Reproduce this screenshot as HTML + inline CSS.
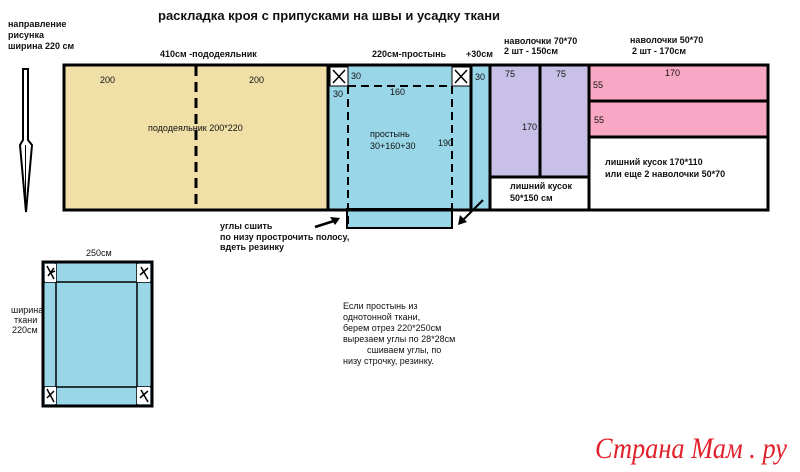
<!DOCTYPE html>
<html><head><meta charset="utf-8"><style>
body{margin:0;background:#fff}
svg{display:block}
text{font-family:"Liberation Sans",sans-serif;font-size:9px;fill:#111}
.b{font-weight:bold}
</style></head><body>
<svg width="800" height="472" viewBox="0 0 800 472" xmlns="http://www.w3.org/2000/svg">
<text x="158" y="20" class="b" style="font-size:13px">раскладка кроя с припусками на швы и усадку ткани</text>
<text x="8" y="27" class="b">направление</text>
<text x="8" y="38" class="b">рисунка</text>
<text x="8" y="49" class="b">ширина 220 см</text>
<path d="M23,69 H28 V140 L32,145 L26,212 L20,145 L23,140 Z" fill="#fff" stroke="#000" stroke-width="2"/>
<line x1="25.5" y1="145" x2="25.5" y2="205" stroke="#000" stroke-width="1"/>
<text x="160" y="57" class="b">410см -пододеяльник</text>
<text x="372" y="57" class="b">220см-простынь</text>
<text x="466" y="57" class="b">+30см</text>
<text x="504" y="44" class="b">наволочки 70*70</text>
<text x="504" y="54" class="b">2 шт  - 150см</text>
<text x="630" y="43" class="b">наволочки 50*70</text>
<text x="632" y="54" class="b">2 шт  - 170см</text>
<rect x="64" y="65" width="264" height="145" fill="#f0e0a8"/>
<rect x="328" y="65" width="144" height="145" fill="#98d6e8"/>
<rect x="347" y="209" width="105" height="19" fill="#98d6e8" stroke="#000" stroke-width="2"/>
<rect x="472" y="65" width="18" height="145" fill="#98d6e8"/>
<rect x="491" y="66" width="97" height="111" fill="#c8c0e6"/>
<rect x="590" y="66" width="178" height="70" fill="#f8a8c4"/>
<rect x="64" y="65" width="704" height="145" fill="none" stroke="#000" stroke-width="3"/>
<line x1="328" y1="65" x2="328" y2="210" stroke="#000" stroke-width="3"/>
<line x1="196" y1="66" x2="196" y2="210" stroke="#000" stroke-width="3" stroke-dasharray="10,6"/>
<line x1="471" y1="65" x2="471" y2="210" stroke="#000" stroke-width="3"/>
<line x1="490" y1="65" x2="490" y2="210" stroke="#000" stroke-width="3"/>
<line x1="589" y1="65" x2="589" y2="210" stroke="#000" stroke-width="3"/>
<line x1="540" y1="65" x2="540" y2="177" stroke="#000" stroke-width="3"/>
<line x1="490" y1="177" x2="589" y2="177" stroke="#000" stroke-width="3"/>
<line x1="589" y1="101" x2="768" y2="101" stroke="#000" stroke-width="3"/>
<line x1="589" y1="137" x2="768" y2="137" stroke="#000" stroke-width="3"/>
<rect x="330" y="67" width="18" height="19" fill="#fff" stroke="#000" stroke-width="1"/>
<path d="M333,70 L345,83 M345,70 L333,83" stroke="#000" stroke-width="1.5"/>
<rect x="452" y="67" width="18" height="19" fill="#fff" stroke="#000" stroke-width="1"/>
<path d="M455,70 L467,83 M467,70 L455,83" stroke="#000" stroke-width="1.5"/>
<line x1="348" y1="86" x2="452" y2="86" stroke="#000" stroke-width="2" stroke-dasharray="8,5"/>
<line x1="348" y1="86" x2="348" y2="228" stroke="#000" stroke-width="2" stroke-dasharray="8,5"/>
<line x1="452" y1="86" x2="452" y2="228" stroke="#000" stroke-width="2" stroke-dasharray="8,5"/>
<text x="100" y="83">200</text>
<text x="249" y="83">200</text>
<text x="148" y="131">пододеяльник 200*220</text>
<text x="351" y="79">30</text>
<text x="333" y="97">30</text>
<text x="390" y="95">160</text>
<text x="370" y="137">простынь</text>
<text x="370" y="149">30+160+30</text>
<text x="438" y="146">190</text>
<text x="475" y="80">30</text>
<text x="505" y="77">75</text>
<text x="556" y="77">75</text>
<text x="522" y="130">170</text>
<text x="510" y="189" class="b">лишний кусок</text>
<text x="510" y="201" class="b">50*150 см</text>
<text x="665" y="76">170</text>
<text x="593" y="88">55</text>
<text x="594" y="123">55</text>
<text x="605" y="165" class="b">лишний кусок 170*110</text>
<text x="605" y="177" class="b">или еще 2 наволочки 50*70</text>
<path d="M315,227 L337,220" stroke="#000" stroke-width="2.5"/>
<path d="M340,218 L330,217 L335,225 Z" fill="#000"/>
<path d="M483,200 L462,221" stroke="#000" stroke-width="2"/>
<path d="M458,225 L460,215 L467,222 Z" fill="#000"/>
<text x="220" y="229" class="b">углы сшить</text>
<text x="220" y="240" class="b">по низу прострочить полосу,</text>
<text x="220" y="250" class="b">вдеть резинку</text>
<text x="86" y="256">250см</text>
<text x="11" y="313">ширина</text>
<text x="14" y="323">ткани</text>
<text x="12" y="333">220см</text>
<rect x="43" y="262" width="109" height="144" fill="#98d6e8" stroke="#000" stroke-width="3"/>
<line x1="56" y1="262" x2="56" y2="406" stroke="#000" stroke-width="1.5"/>
<line x1="137" y1="262" x2="137" y2="406" stroke="#000" stroke-width="1.5"/>
<line x1="43" y1="282" x2="152" y2="282" stroke="#000" stroke-width="1.5"/>
<line x1="43" y1="387" x2="152" y2="387" stroke="#000" stroke-width="1.5"/>
<rect x="45" y="264" width="11" height="18" fill="#fff"/>
<rect x="137" y="264" width="13" height="18" fill="#fff"/>
<rect x="45" y="387" width="11" height="17" fill="#fff"/>
<rect x="137" y="387" width="13" height="17" fill="#fff"/>
<path d="M47,266 L54,279 M54,268 L48,276 M50,273 L55,271" stroke="#000" stroke-width="1.5" fill="none"/>
<path d="M141,267 L148,279 M148,268 L140,275" stroke="#000" stroke-width="1.5" fill="none"/>
<path d="M47,389 L54,402 M54,391 L47,398" stroke="#000" stroke-width="1.5" fill="none"/>
<path d="M141,390 L148,402 M148,391 L140,398" stroke="#000" stroke-width="1.5" fill="none"/>
<text x="343" y="309">Если простынь из</text>
<text x="343" y="320">однотонной ткани,</text>
<text x="343" y="331">берем отрез 220*250см</text>
<text x="343" y="342">вырезаем углы по 28*28см</text>
<text x="367" y="353">сшиваем углы, по</text>
<text x="343" y="364">низу строчку, резинку.</text>
<text x="595" y="458" textLength="192" lengthAdjust="spacingAndGlyphs" style="font-family:'Liberation Serif',serif;font-style:italic;font-size:30px;fill:#e0202a">Страна Мам . ру</text>
</svg>
</body></html>
